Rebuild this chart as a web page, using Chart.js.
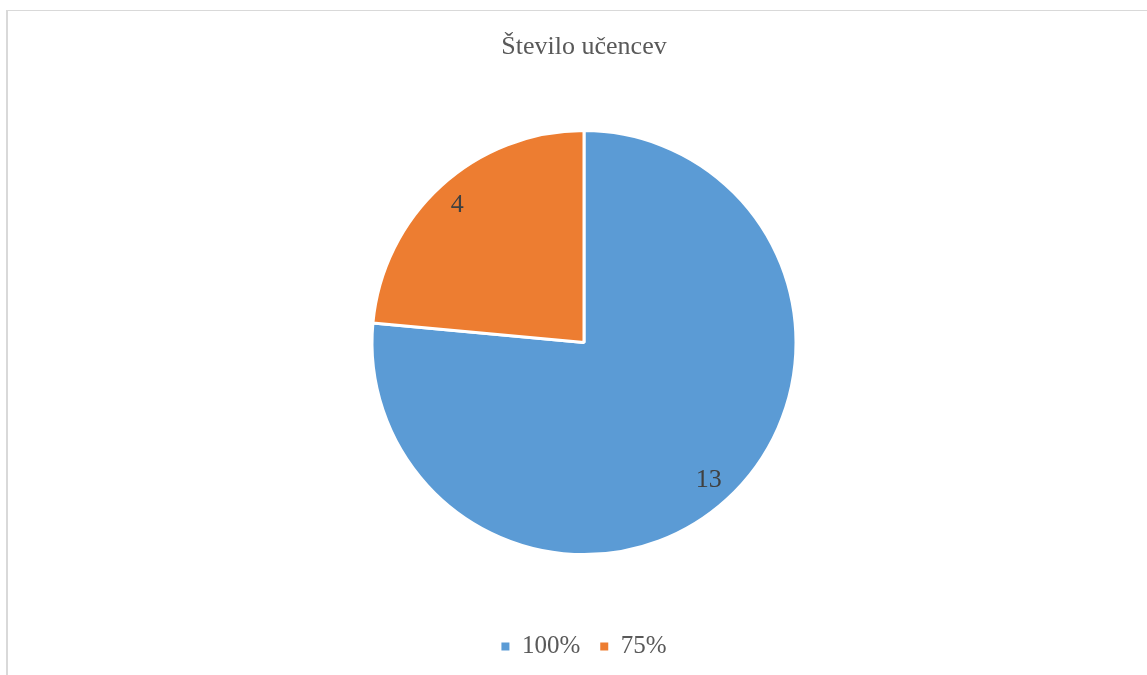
<!DOCTYPE html>
<html>
<head>
<meta charset="utf-8">
<script src="https://cdn.jsdelivr.net/npm/chart.js@4"></script>
<style>
    html, body { margin: 0; padding: 0; background: #fff; overflow: hidden; }
    #wrap { position: relative; width: 1147px; height: 675px; }
    #frame {
        position: absolute; left: 6px; top: 10px; width: 2000px; height: 2000px;
        border-top: 1px solid #d9d9d9; border-left: 2px solid #d9d9d9;
        pointer-events: none;
    }
    canvas { position: absolute; left: 0; top: 0; }
</style>
</head>
<body>
<div id="wrap">
    <canvas id="pie" width="1147" height="675"></canvas>
    <div id="frame"></div>
</div>
<script>
const labels = ["100%", "75%"];
const counts = [13, 4];
const colors = ["#5B9BD5", "#ED7D31"];

const serif = "'Liberation Serif', 'Times New Roman', serif";

// value labels inside each slice
const sliceLabels = {
    id: "sliceLabels",
    afterDatasetsDraw(chart) {
        const ctx = chart.ctx;
        const meta = chart.getDatasetMeta(0);
        ctx.save();
        ctx.font = "26px " + serif;
        ctx.fillStyle = "#404040";
        ctx.textAlign = "center";
        ctx.textBaseline = "middle";
        meta.data.forEach(function (arc, i) {
            const p = arc.getProps(["x", "y", "startAngle", "endAngle", "outerRadius"], true);
            const mid = (p.startAngle + p.endAngle) / 2;
            const r = p.outerRadius * 0.88;
            ctx.fillText(String(counts[i]), p.x + Math.cos(mid) * r - 1, p.y + Math.sin(mid) * r);
        });
        ctx.restore();
    }
};

new Chart(document.getElementById("pie"), {
    type: "pie",
    data: {
        labels: labels,
        datasets: [{
            data: counts,
            backgroundColor: colors,
            borderColor: "#ffffff",
            borderWidth: 3,
            radius: 212
        }]
    },
    options: {
        responsive: false,
        animation: false,
        layout: { padding: { left: 21, bottom: 6 } },
        plugins: {
            title: {
                display: true,
                text: "Število učencev",
                color: "#595959",
                font: { family: serif, size: 26, weight: "normal" },
                padding: { top: 32, bottom: 8 }
            },
            legend: {
                position: "bottom",
                labels: {
                    usePointStyle: true,
                    pointStyle: "rect",
                    boxWidth: 8,
                    boxHeight: 8,
                    padding: 20,
                    color: "#595959",
                    font: { family: serif, size: 25 },
                    // plain filled squares, no white outline from the slice border
                    generateLabels(chart) {
                        const items = Chart.overrides.pie.plugins.legend.labels.generateLabels(chart);
                        items.forEach(function (it) { it.lineWidth = 0; it.strokeStyle = "rgba(0,0,0,0)"; });
                        return items;
                    }
                }
            },
            tooltip: { enabled: false }
        }
    },
    plugins: [sliceLabels]
});
</script>
</body>
</html>
